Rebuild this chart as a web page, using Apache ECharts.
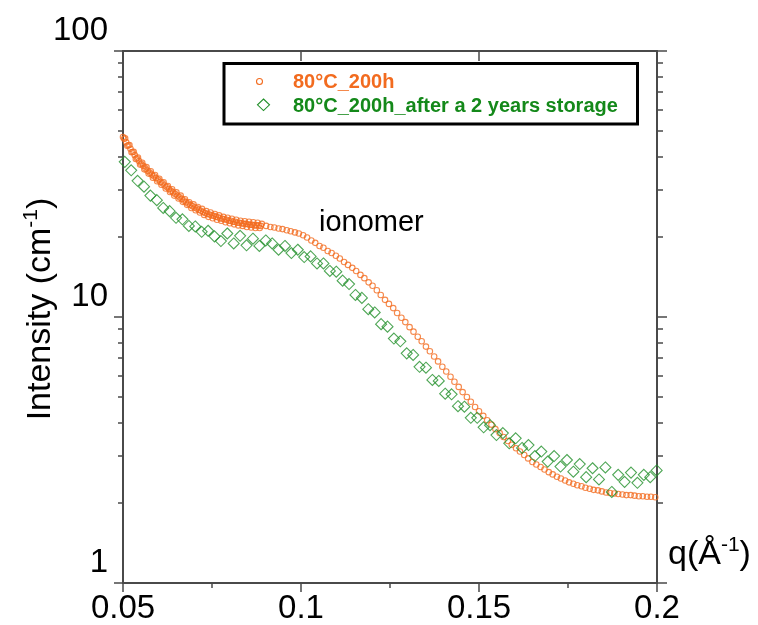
<!DOCTYPE html>
<html>
<head>
<meta charset="utf-8">
<script src="https://cdn.jsdelivr.net/npm/echarts@6/dist/echarts.min.js"></script>
<style>
html,body{margin:0;padding:0;background:#fff;}
#chart{width:758px;height:625px;}
</style>
</head>
<body>
<div id="chart"></div>
<script>
// ---- data ----
const seriesNames = ['80°C_200h', '80°C_200h_after a 2 years storage'];

// orange: dense low-q part
const qOrangeDense = [
0.0500,0.0503,0.0506,0.0509,0.0512,0.0515,0.0518,0.0521,0.0524,0.0527,
0.0530,0.0533,0.0536,0.0539,0.0542,0.0545,0.0548,0.0551,0.0554,0.0557,
0.0560,0.0563,0.0566,0.0569,0.0572,0.0575,0.0578,0.0581,0.0584,0.0587,
0.0590,0.0593,0.0596,0.0599,0.0602,0.0605,0.0608,0.0611,0.0614,0.0617,
0.0620,0.0623,0.0626,0.0629,0.0632,0.0635,0.0638,0.0641,0.0644,0.0647,
0.0650,0.0653,0.0656,0.0659,0.0662,0.0665,0.0668,0.0671,0.0674,0.0677,
0.0680,0.0683,0.0686,0.0689,0.0692,0.0695,0.0698,0.0701,0.0704,0.0707,
0.0710,0.0713,0.0716,0.0719,0.0722,0.0725,0.0728,0.0731,0.0734,0.0737,
0.0740,0.0743,0.0746,0.0749,0.0752,0.0755,0.0758,0.0761,0.0764,0.0767,
0.0770,0.0773,0.0776,0.0779,0.0782,0.0785,0.0788,0.0791,0.0794,0.0797,
0.0800,0.0803,0.0806,0.0809,0.0812,0.0815,0.0818,0.0821,0.0824,0.0827,
0.0830,0.0833,0.0836,0.0839,0.0842,0.0845,0.0848,0.0851,0.0854,0.0857,
0.0860,0.0863,0.0866,0.0869,0.0872,0.0875,0.0878,0.0881,0.0884,0.0887,
0.0890
];
const iOrangeDense = [
47.5,46.8,47.0,45.4,44.0,44.2,44.3,42.9,41.6,41.7,
41.8,40.6,39.3,39.5,39.8,38.6,37.4,37.7,38.0,37.0,
35.9,36.2,36.6,35.5,34.6,34.9,35.3,34.3,33.4,33.8,
34.2,33.3,32.4,32.8,33.1,32.2,31.4,31.8,32.1,31.2,
30.4,30.8,31.1,30.3,29.5,29.8,30.2,29.4,28.6,29.0,
29.4,28.6,27.9,28.2,28.6,27.8,27.1,27.4,27.7,27.0,
26.4,26.7,27.0,26.4,25.7,26.1,26.5,25.8,25.2,25.6,
25.9,25.3,24.7,25.1,25.5,24.8,24.2,24.6,25.0,24.4,
23.8,24.3,24.7,24.1,23.5,24.0,24.4,23.8,23.2,23.7,
24.1,23.5,23.0,23.4,23.8,23.3,22.7,23.2,23.6,23.0,
22.5,23.0,23.4,22.8,22.3,22.8,23.2,22.6,22.1,22.6,
23.0,22.5,22.0,22.4,22.9,22.4,21.8,22.3,22.8,22.2,
21.7,22.2,22.7,22.1,21.6,22.1,22.6,22.1,21.6,22.0,
22.4
];
// orange: sparser high-q part
const qOrangeSparse = [
0.0902,0.0914,0.0925,0.0937,0.0948,0.0960,0.0971,0.0983,0.0994,0.1006,
0.1017,0.1029,0.1040,0.1052,0.1063,0.1075,0.1086,0.1098,0.1109,0.1121,
0.1132,0.1144,0.1155,0.1167,0.1178,0.1190,0.1201,0.1213,0.1224,0.1236,
0.1247,0.1259,0.1270,0.1282,0.1293,0.1305,0.1316,0.1328,0.1339,0.1351,
0.1362,0.1374,0.1385,0.1397,0.1408,0.1420,0.1431,0.1443,0.1454,0.1466,
0.1477,0.1489,0.1500,0.1512,0.1523,0.1535,0.1546,0.1558,0.1569,0.1581,
0.1592,0.1604,0.1615,0.1627,0.1638,0.1650,0.1661,0.1673,0.1684,0.1696,
0.1707,0.1719,0.1730,0.1742,0.1753,0.1765,0.1776,0.1788,0.1799,0.1811,
0.1822,0.1834,0.1845,0.1857,0.1868,0.1880,0.1891,0.1903,0.1914,0.1926,
0.1937,0.1949,0.1960,0.1972,0.1983,0.1995
];
const iOrangeSparse = [
22.0,21.8,21.7,21.5,21.4,21.2,21.0,20.8,20.6,20.3,
19.9,19.4,19.0,18.5,18.2,17.7,17.4,17.0,16.6,16.1,
15.7,15.3,14.9,14.4,14.0,13.5,13.1,12.6,12.1,11.6,
11.2,10.8,10.35,9.93,9.57,9.16,8.81,8.43,8.11,7.74,
7.43,7.10,6.81,6.50,6.24,5.96,5.71,5.46,5.22,5.00,
4.80,4.59,4.42,4.25,4.09,3.94,3.79,3.66,3.54,3.42,
3.31,3.21,3.12,3.03,2.94,2.85,2.79,2.73,2.67,2.61,
2.56,2.51,2.47,2.43,2.39,2.36,2.33,2.31,2.28,2.26,
2.24,2.23,2.21,2.19,2.18,2.17,2.16,2.15,2.14,2.14,
2.13,2.12,2.12,2.11,2.11,2.10
];

const qGreen = [
0.0505,0.0523,0.0541,0.0559,0.0577,0.0595,0.0613,0.0631,0.0649,0.0667,
0.0685,0.0703,0.0721,0.0739,0.0757,0.0775,0.0793,0.0811,0.0829,0.0847,
0.0865,0.0883,0.0901,0.0919,0.0937,0.0955,0.0973,0.0991,0.1009,0.1027,
0.1045,0.1063,0.1081,0.1099,0.1117,0.1135,0.1153,0.1171,0.1189,0.1207,
0.1225,0.1243,0.1261,0.1279,0.1297,0.1315,0.1333,0.1351,0.1369,0.1387,
0.1405,0.1423,0.1441,0.1459,0.1477,0.1495,0.1513,0.1531,0.1549,0.1567,
0.1585,0.1603,0.1621,0.1639,0.1657,0.1675,0.1693,0.1711,0.1729,0.1747,
0.1765,0.1783,0.1801,0.1819,0.1837,0.1855,0.1873,0.1891,0.1909,0.1927,
0.1945,0.1963,0.1981,0.1999
];
const iGreen = [
38.3,35.6,32.5,30.9,28.6,27.5,25.7,25.0,23.6,23.3,
22.0,21.9,20.9,21.1,20.1,19.3,20.6,18.9,20.2,18.6,
19.7,18.5,19.4,18.9,17.9,18.5,17.4,17.9,16.8,16.9,
15.9,15.9,14.9,14.8,13.7,13.3,12.1,11.8,10.7,10.4,
9.4,9.2,8.3,8.1,7.3,7.2,6.5,6.45,5.8,5.75,
5.15,5.12,4.62,4.6,4.18,4.18,3.85,3.92,3.6,3.66,
3.35,3.5,3.22,3.3,3.0,3.12,2.86,3.0,2.74,2.9,
2.62,2.8,2.5,2.7,2.45,2.72,2.2,2.55,2.4,2.6,
2.38,2.55,2.5,2.65
];

const xTickValues = [0.05, 0.1, 0.15, 0.2];
const yMajorTicks = [1, 10, 100];
const yMinorTicks = [2,3,4,5,6,7,8,9,20,30,40,50,60,70,80,90];
const annotationText = 'ionomer';

// ---- styles ----
const ORANGE = '#F26B1F';
const GREEN = '#22902A';
const GREEN_TEXT = '#14891A';
const AXIS = '#4a4a4a';
const FONT = '"Liberation Sans", Arial, sans-serif';

const chart = echarts.init(document.getElementById('chart'), null, {renderer: 'canvas'});

const xMin = xTickValues[0], xMax = xTickValues[xTickValues.length - 1];
const xStep = xTickValues[1] - xTickValues[0];
const yMin = yMajorTicks[0], yMax = yMajorTicks[yMajorTicks.length - 1];

function yAxisBase(pos) {
  return {
    type: 'log', logBase: 10, min: yMin, max: yMax, position: pos,
    splitLine: {show: false},
    axisLine: {show: true, onZero: false, lineStyle: {color: AXIS, width: 2}},
    axisLabel: {show: false}
  };
}

const orangeData = qOrangeDense.map((q, i) => [q, iOrangeDense[i]])
  .concat(qOrangeSparse.map((q, i) => [q, iOrangeSparse[i]]));
const greenData = qGreen.map((q, i) => [q, iGreen[i]]);

const option = {
  animation: false,
  backgroundColor: '#fff',
  grid: {left: 123, right: 101, top: 51, bottom: 39, containLabel: false},
  xAxis: [
    {
      type: 'value', min: xMin, max: xMax, interval: xStep, position: 'bottom',
      splitLine: {show: false},
      axisLine: {onZero: false, lineStyle: {color: AXIS, width: 2}},
      axisTick: {show: true, inside: false, length: 9, lineStyle: {color: AXIS, width: 1.5}},
      minorTick: {show: true, splitNumber: 2, length: 5, lineStyle: {color: AXIS, width: 1.5}},
      axisLabel: {
        margin: 9, fontSize: 33, fontFamily: FONT, color: '#000', lineHeight: 33,
        formatter: v => String(Math.round(v * 1000) / 1000)
      },
      name: '{a|q(Å}{s|-1}{a|)}',
      nameLocation: 'end', nameGap: 11,
      nameTextStyle: {
        align: 'left', verticalAlign: 'bottom', padding: [0, 0, 8, 0],
        rich: {
          a: {fontSize: 34, fontFamily: FONT, color: '#000', lineHeight: 40},
          s: {fontSize: 21, fontFamily: FONT, color: '#000', lineHeight: 22, verticalAlign: 'top'}
        }
      }
    },
    {
      type: 'value', min: xMin, max: xMax, interval: xStep, position: 'top',
      splitLine: {show: false},
      axisLine: {onZero: false, lineStyle: {color: AXIS, width: 2}},
      axisTick: {show: true, inside: true, length: 10, lineStyle: {color: AXIS, width: 1.5}},
      axisLabel: {show: false}
    }
  ],
  yAxis: [
    Object.assign(yAxisBase('left'), {
      axisTick: {show: true, inside: false, length: 9, lineStyle: {color: AXIS, width: 1.5}},
      axisLabel: {
        show: true, margin: 15, fontSize: 33, fontFamily: FONT, color: '#000',
        verticalAlign: 'bottom', lineHeight: 41,
        customValues: yMajorTicks
      },
      name: '{a|Intensity (cm}{s|-1}{a|)}',
      nameLocation: 'middle', nameGap: 62, nameRotate: 90,
      nameMoveOverlap: false,
      nameTextStyle: {
        padding: [0, 0, 0, 16],
        rich: {
          a: {fontSize: 34, fontFamily: FONT, color: '#000', lineHeight: 40},
          s: {fontSize: 21, fontFamily: FONT, color: '#000', lineHeight: 22, verticalAlign: 'top'}
        }
      }
    }),
    Object.assign(yAxisBase('left'), {
      axisLine: {show: false},
      axisTick: {show: true, inside: false, length: 5, customValues: yMinorTicks, lineStyle: {color: AXIS, width: 1.5}}
    }),
    Object.assign(yAxisBase('right'), {
      axisTick: {show: true, inside: false, length: 10, lineStyle: {color: AXIS, width: 1.5}}
    }),
    Object.assign(yAxisBase('right'), {
      axisLine: {show: false},
      axisTick: {show: true, inside: false, length: 6, customValues: yMinorTicks, lineStyle: {color: AXIS, width: 1.5}}
    })
  ],
  series: [
    {
      name: seriesNames[0], type: 'scatter', xAxisIndex: 0, yAxisIndex: 0,
      symbol: 'circle', symbolSize: 5.5,
      itemStyle: {color: 'rgba(255,255,255,0)', borderColor: ORANGE, borderWidth: 1.1},
      data: orangeData
    },
    {
      name: seriesNames[1], type: 'scatter', xAxisIndex: 0, yAxisIndex: 0,
      symbol: 'diamond', symbolSize: 11,
      itemStyle: {color: 'rgba(255,255,255,0)', borderColor: GREEN, borderWidth: 1.1},
      data: greenData
    }
  ],
  graphic: [
    {
      type: 'rect', z: 100,
      shape: {x: 224, y: 63.5, width: 413.5, height: 60.5},
      style: {fill: '#fff', stroke: '#000', lineWidth: 3}
    },
    {
      type: 'circle', z: 101,
      shape: {cx: 259.5, cy: 81.5, r: 3},
      style: {fill: '#fff', stroke: ORANGE, lineWidth: 1.1}
    },
    {
      type: 'polygon', z: 101,
      shape: {points: [[263.5, 99], [269.5, 104.8], [263.5, 110.6], [257.5, 104.8]]},
      style: {fill: '#fff', stroke: GREEN, lineWidth: 1.1}
    },
    {
      type: 'text', z: 101, x: 293, y: 82.5,
      style: {text: seriesNames[0], fill: ORANGE, font: 'bold 20px ' + FONT, verticalAlign: 'middle', align: 'left'}
    },
    {
      type: 'text', z: 101, x: 293, y: 106,
      style: {text: seriesNames[1], fill: GREEN_TEXT, font: 'bold 20px ' + FONT, verticalAlign: 'middle', align: 'left'}
    },
    {
      type: 'text', z: 101, x: 319, y: 223,
      style: {text: annotationText, fill: '#000', font: '29px ' + FONT, verticalAlign: 'middle', align: 'left'}
    }
  ]
};

chart.setOption(option);
</script>
</body>
</html>
